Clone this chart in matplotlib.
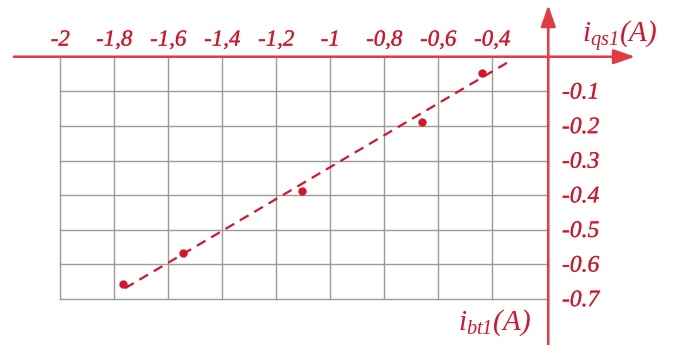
import matplotlib
matplotlib.use("Agg")
import matplotlib.pyplot as plt
import matplotlib.patheffects as pe

plt.rcParams["mathtext.fontset"] = "custom"
plt.rcParams["mathtext.rm"] = "Liberation Serif:italic"
plt.rcParams["mathtext.it"] = "Liberation Serif:italic"

# measured points (i_bt1, i_qs1)
ibt = [-1.767, -1.544, -1.104, -0.661, -0.439]
iqs = [-0.658, -0.568, -0.388, -0.188, -0.046]

# linear trend endpoints
fit_x = [-1.76, -0.34]
fit_y = [-0.669, -0.015]

x_ticks = [-2.0, -1.8, -1.6, -1.4, -1.2, -1.0, -0.8, -0.6, -0.4]
x_labels = ["-2", "-1,8", "-1,6", "-1,4", "-1,2", "-1", "-0,8", "-0,6", "-0,4"]
y_ticks = [-0.1, -0.2, -0.3, -0.4, -0.5, -0.6, -0.7]
y_labels = ["-0.1", "-0.2", "-0.3", "-0.4", "-0.5", "-0.6", "-0.7"]

RED = "#d8142a"
AXRED = "#e23a40"
GRID = "#9a9a9a"
YAXIS_X = -0.1926

heavy = [pe.withStroke(linewidth=0.15, foreground=RED)]

fig = plt.figure(figsize=(6.76, 3.45), dpi=100)
ax = fig.add_axes([0, 0, 1, 1])
ax.set_xlim(-2.2233, 0.2804)
ax.set_ylim(-0.8332, 0.1639)
ax.axis("off")

# grid
for x in x_ticks:
    ax.plot([x, x], [0, -0.7], color=GRID, lw=1.0, zorder=1)
for y in y_ticks:
    ax.plot([-2.0, YAXIS_X], [y, y], color=GRID, lw=1.0, zorder=1)

# axes with arrows
ax.annotate("", xy=(0.1285, 0), xytext=(-2.172, 0),
            arrowprops=dict(arrowstyle="-|>,head_length=1.3,head_width=0.45",
                            color=AXRED, lw=1.8, shrinkA=0, shrinkB=0), zorder=3)
ax.annotate("", xy=(YAXIS_X, 0.149), xytext=(YAXIS_X, -0.85),
            arrowprops=dict(arrowstyle="-|>,head_length=1.3,head_width=0.45",
                            color=AXRED, lw=1.8, shrinkA=0, shrinkB=0), zorder=3)

# tick labels
for x, lab in zip(x_ticks, x_labels):
    ax.text(x, 0.048, lab, ha="center", va="center", color=RED,
            fontsize=16.5, family="Liberation Serif", style="italic",
            path_effects=heavy)
for y, lab in zip(y_ticks, y_labels):
    ax.text(-0.142, y - 0.005, lab, ha="left", va="center", color=RED,
            fontsize=17, family="Liberation Serif", style="italic",
            path_effects=heavy)

# axis titles
ax.text(-0.067, 0.039, r"$i_{qs1}(A)$", ha="left", va="baseline", color=RED,
        fontsize=21)
ax.text(-0.258, -0.79, r"$i_{bt1}(A)$", ha="right", va="baseline", color=RED,
        fontsize=21)

# trend line and data
ax.plot(fit_x, fit_y, color=RED, lw=1.6, dashes=(4.5, 3), zorder=4)
ax.scatter(ibt, iqs, s=36, color=RED, zorder=5, linewidths=0)

fig.savefig("out.png", dpi=100)
